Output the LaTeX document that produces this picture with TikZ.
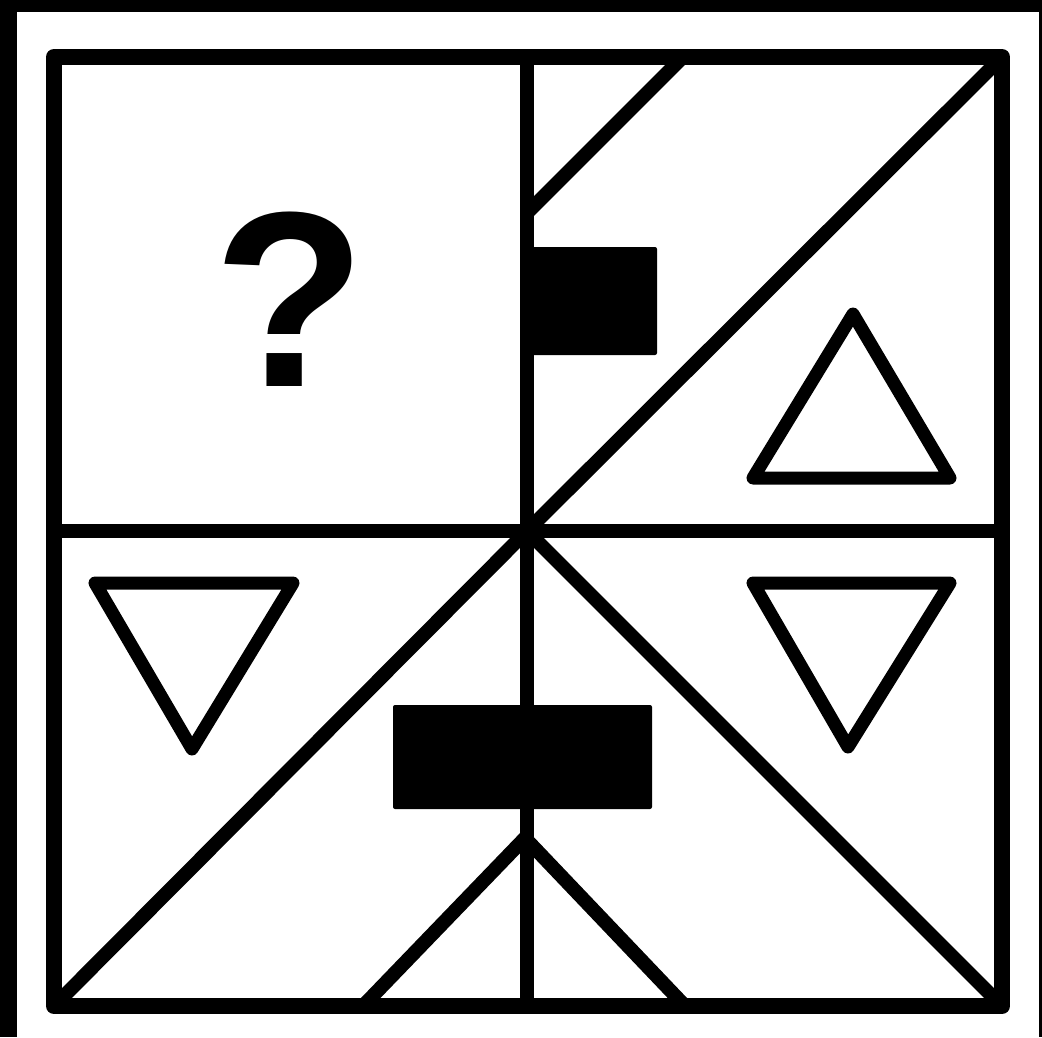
\documentclass[tikz,border=0pt]{standalone}
\usepackage{fontspec}
\setmainfont{Liberation Sans}
\begin{document}
\begin{tikzpicture}[
      x=1pt,y=-1pt,
      frame/.style={line width=16pt,line join=round},
      cut/.style={line width=14pt,line cap=butt},
      tri/.style={line width=13pt,line join=round},
      block/.style={fill=black,rounded corners=2pt}
    ]
    \useasboundingbox (0,0) rectangle (1042,1037);
    \fill[white] (0,0) rectangle (1042,1037);
    % dark strips of the scan
    \fill[black] (0,0) rectangle (17,1037);
    \fill[black] (0,0) rectangle (1042,12);
    \fill[black] (1039,0) rectangle (1042,1037);
    % corners and centre
    \coordinate (tl) at (54,57);
    \coordinate (tr) at (1002,57);
    \coordinate (bl) at (54,1006);
    \coordinate (br) at (1002,1006);
    \coordinate (c) at (527,531);
    \draw[frame] (tl) rectangle (br);
    \draw[cut] (c |- tl) -- (c |- bl);
    \draw[cut] (c -| tl) -- (c -| tr);
    \draw[cut] (bl) -- (c) -- (tr);
    \draw[cut] (c) -- (br);
    % short cuts
    \coordinate (ta) at (527,213);
    \coordinate (tb) at (683,57);
    \draw[cut] (ta) -- (tb);
    \coordinate (ba) at (525,838);
    \draw[cut] (363,1006) -- (ba) -- (685,1006);
    % figures
    \node[font=\bfseries\fontsize{250}{250}\selectfont,inner sep=0pt] (q) at (290,299) {?};
    \fill[block] (522,247) rectangle (657,355);
    \fill[block] (393,705) rectangle (652,809);
    \draw[tri] (853,314) -- (753,478) -- (950,478) -- cycle;
    \draw[tri] (95,583) -- (293,583) -- (192,749) -- cycle;
    \draw[tri] (753,583) -- (950,583) -- (848,747) -- cycle;
  \end{tikzpicture}
\end{document}
